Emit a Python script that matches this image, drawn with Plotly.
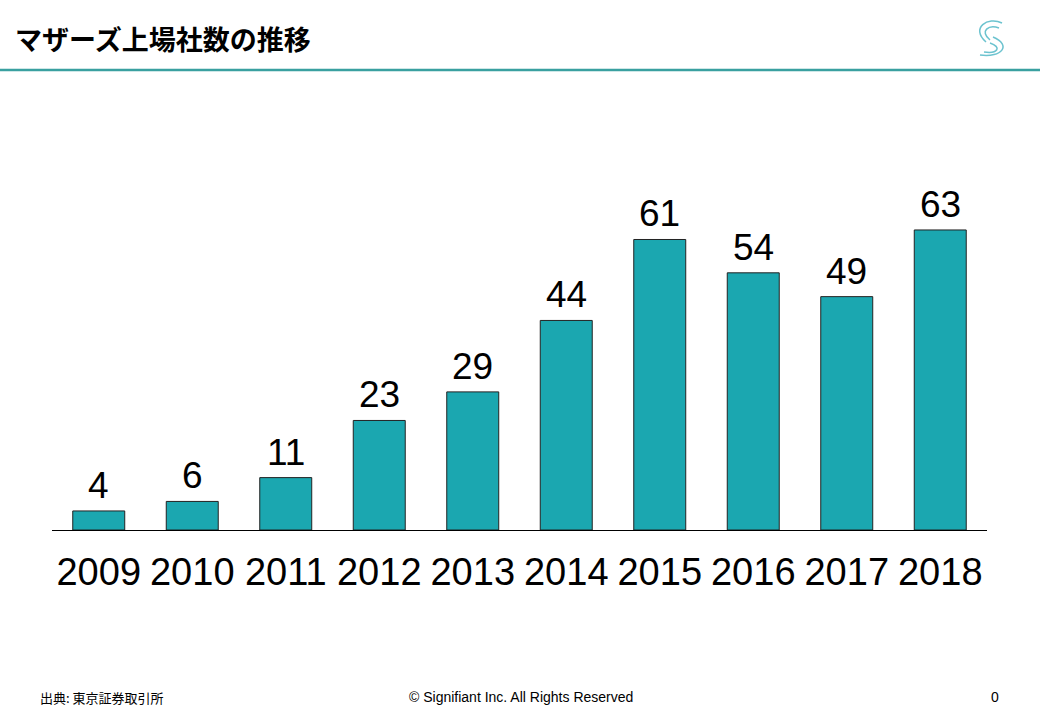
import plotly.graph_objects as go

# ---- data ----
years = ["2009", "2010", "2011", "2012", "2013", "2014", "2015", "2016", "2017", "2018"]
listings = [4, 6, 11, 23, 29, 44, 61, 54, 49, 63]

title_text = "マザーズ上場社数の推移"
source_text = "出典: 東京証券取引所"
copyright_text = "© Signifiant Inc. All Rights Reserved"
page_text = "0"

# ---- layout geometry (pixels) ----
W, H = 1040, 720
L, R = 52, 987          # plot area left/right
T, B = 149, 530         # plot area top/bottom

def px(x):
    return (x - L) / (R - L)

def py(y):
    return (B - y) / (B - T)

BAR = "#1ba7b0"
TEAL_LINE = "#3aa0a0"
LOGO = "#6cc3cf"
FONT = "Liberation Sans, Arial, sans-serif"
CJK = "Noto Sans CJK JP, sans-serif"

fig = go.Figure()
fig.add_trace(go.Bar(
    x=years, y=listings,
    marker=dict(color=BAR, line=dict(color="#222222", width=1)),
    hoverinfo="x+y",
))

annotations = []
for i, v in enumerate(listings):
    annotations.append(dict(
        x=i, y=v, xref="x", yref="y", text=str(v), showarrow=False,
        yanchor="bottom", yshift=3,
        font=dict(family=FONT, size=37, color="#000000"),
    ))

# footer
annotations += [
    dict(x=px(38), y=py(697), xref="paper", yref="paper", text=source_text,
         showarrow=False, xanchor="left", yanchor="middle",
         font=dict(family=CJK, size=13, color="#000000")),
    dict(x=px(521), y=py(697), xref="paper", yref="paper", text=copyright_text,
         showarrow=False, xanchor="center", yanchor="middle",
         font=dict(family=FONT, size=14, color="#000000")),
    dict(x=px(995), y=py(697), xref="paper", yref="paper", text=page_text,
         showarrow=False, xanchor="center", yanchor="middle",
         font=dict(family=FONT, size=14, color="#000000")),
]

shapes = [
    # header rule
    dict(type="line", xref="paper", yref="paper", x0=px(0), x1=px(W), y0=py(70), y1=py(70),
         line=dict(color=TEAL_LINE, width=2.5)),
]

# logo: swirl made of four arcs
def arc(p0, c1, c2, p1):
    return (f"M {px(p0[0])},{py(p0[1])} C {px(c1[0])},{py(c1[1])} "
            f"{px(c2[0])},{py(c2[1])} {px(p1[0])},{py(p1[1])}")

logo_arcs = [
    ((1002, 23), (988, 16), (970, 28), (986, 42)),
    ((999, 28), (989, 24), (979, 31), (990, 40)),
    ((993, 37), (1012, 45), (1002, 58), (980, 55)),
    ((990, 43), (1002, 47), (998, 54), (984, 52)),
]
for a in logo_arcs:
    shapes.append(dict(type="path", xref="paper", yref="paper", path=arc(*a),
                       line=dict(color=LOGO, width=1.5)))

fig.update_layout(
    width=W, height=H,
    margin=dict(l=L, r=W - R, t=T, b=H - B, pad=0, autoexpand=False),
    paper_bgcolor="white", plot_bgcolor="white",
    showlegend=False,
    bargap=0.444,
    title=dict(text=f"<b>{title_text}</b>", x=15 / W, y=1 - 41 / H,
               xanchor="left", yanchor="middle",
               font=dict(family=CJK, size=27, color="#000000")),
    xaxis=dict(type="category", range=[-0.5, len(years) - 0.5], automargin=False,
               showline=True, linecolor="#000000",
               linewidth=1, ticks="outside",
               ticklen=8, tickcolor="rgba(0,0,0,0)", showgrid=False,
               tickfont=dict(family=FONT, size=38, color="#000000")),
    yaxis=dict(range=[0, 80], visible=False, showgrid=False, zeroline=False,
               automargin=False),
    annotations=annotations,
    shapes=shapes,
)
fig.layout.title.xref = "container"
fig.layout.title.yref = "container"

fig.write_html("out.html", config={"displayModeBar": False},
               post_script="document.body.style.margin='0';document.body.style.overflow='hidden';")
